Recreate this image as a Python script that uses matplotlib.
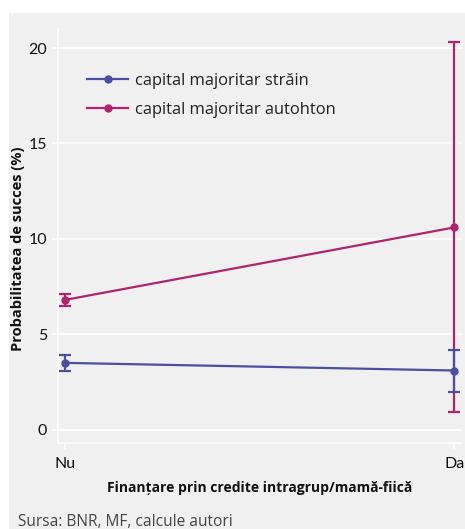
import matplotlib
matplotlib.use("Agg")
import matplotlib.pyplot as plt
from matplotlib.patches import Rectangle
from matplotlib.lines import Line2D

# Data
categories = ["Nu", "Da"]
strain_vals = [3.5, 3.1]
strain_lo = [3.1, 1.95]
strain_hi = [3.9, 4.15]
autohton_vals = [6.8, 10.6]
autohton_lo = [6.5, 0.9]
autohton_hi = [7.1, 20.3]
yticks = [0, 5, 10, 15, 20]
series_labels = ["capital majoritar străin", "capital majoritar autohton"]

blue = "#4a4f9e"
magenta = "#b0246c"
panel = "#f0f0f0"
W, H = 465, 529

plt.rcParams["font.family"] = ["Open Sans", "DejaVu Sans"]

fig = plt.figure(figsize=(W / 100, H / 100), dpi=100)
fig.patches.append(Rectangle((9 / W, 0), 1, (H - 13) / H,
                             transform=fig.transFigure, facecolor=panel,
                             edgecolor="none", zorder=-10))

ax = fig.add_axes([58 / W, (H - 443) / H, (462 - 58) / W, (443 - 29) / H])
ax.set_facecolor("none")

x = list(range(len(categories)))


def draw(vals, lo, hi, color):
    yerr = [[v - l for v, l in zip(vals, lo)], [h - v for v, h in zip(vals, hi)]]
    ax.errorbar(x, vals, yerr=yerr, color=color, lw=1.6, marker="o", ms=5,
                capsize=4, capthick=1.6, elinewidth=1.6, zorder=3)


draw(autohton_vals, autohton_lo, autohton_hi, magenta)
draw(strain_vals, strain_lo, strain_hi, blue)

ax.set_xlim(-0.018, 1.02)
ax.set_ylim(-0.7, 21.0)
ax.set_yticks(yticks)
ax.set_xticks(x)
ax.set_xticklabels(categories)
ax.grid(axis="y", color="white", lw=1.2, zorder=1)
ax.set_axisbelow(True)
for s in ["top", "right"]:
    ax.spines[s].set_visible(False)
for s in ["left", "bottom"]:
    ax.spines[s].set_color("white")
    ax.spines[s].set_linewidth(1.2)
ax.tick_params(colors="white", length=4, width=1.2, labelcolor="#111111")
ax.tick_params(axis="y", pad=4)
ax.tick_params(axis="x", pad=6)
for lab in ax.get_xticklabels() + ax.get_yticklabels():
    lab.set_family(["Lato", "DejaVu Sans"])
    lab.set_fontsize(11.5)

ax.set_ylabel("Probabilitatea de succes (%)", fontsize=10.5, fontweight="bold",
              color="#111111")
ax.yaxis.set_label_coords(-0.082, 0.47)
ax.set_xlabel("Finanțare prin credite intragrup/mamă-fiică", fontsize=10,
              fontweight="bold", color="#111111", va="top")
ax.xaxis.set_label_coords(0.5, -0.092)

handles = [Line2D([], [], color=blue, lw=1.6, marker="o", ms=5),
           Line2D([], [], color=magenta, lw=1.6, marker="o", ms=5)]
leg = ax.legend(handles, series_labels, loc="upper left",
                bbox_to_anchor=(87 / W, 1 - 73 / H), bbox_transform=fig.transFigure,
                frameon=False, fontsize=11.9, handlelength=2.5, labelspacing=0.8,
                handletextpad=0.42, borderpad=0, borderaxespad=0)
for t in leg.get_texts():
    t.set_color("#222222")

fig.text(18 / W, 1 - 522 / H, "Sursa: BNR, MF, calcule autori", fontsize=11.2,
         color="#444444", va="center", ha="left")

fig.savefig("out.png", dpi=100)
